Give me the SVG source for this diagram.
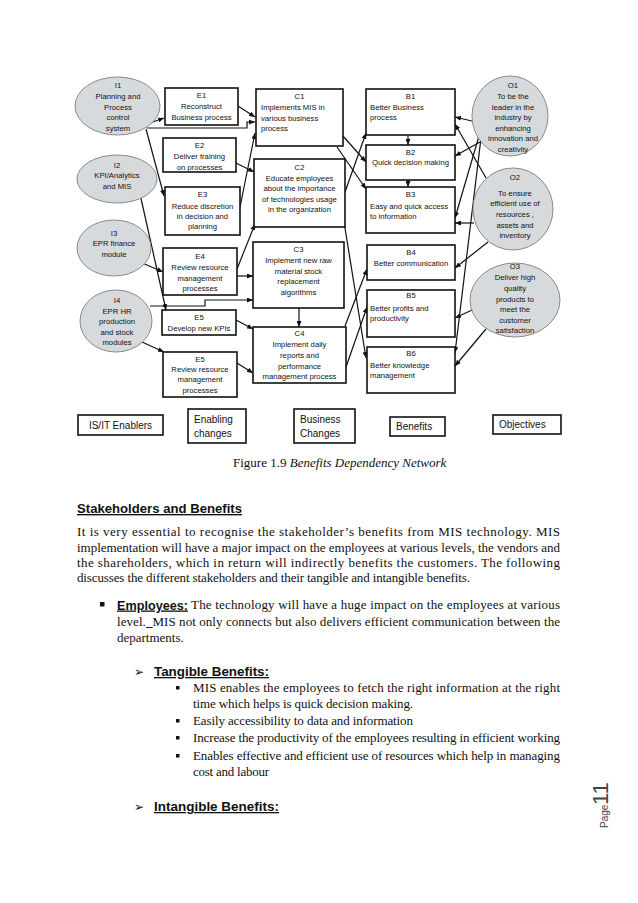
<svg xmlns="http://www.w3.org/2000/svg" width="638" height="903" viewBox="0 0 638 903">
<style>
.el{fill:#d6dadd;stroke:#8a8a8a;stroke-width:1}
.bx{fill:#fff;stroke:#111;stroke-width:1.6}
.t{font-family:"Liberation Sans",Arial,sans-serif;font-size:7.7px;fill:#111}
.c{text-anchor:middle}
.lg{font-family:"Liberation Sans",Arial,sans-serif;font-size:10px;fill:#111}
.cn{fill:none;stroke:#111;stroke-width:1.2;marker-end:url(#ah)}
.p{font-family:"Liberation Serif","Times New Roman",serif;font-size:13px;fill:#111}
.h{font-family:"Liberation Sans",Arial,sans-serif;font-weight:bold;fill:#111;text-decoration:underline}
.ar{font-family:"DejaVu Sans",sans-serif;font-size:12px;fill:#111}
</style>
<defs>
<marker id="ah" markerUnits="userSpaceOnUse" markerWidth="6" markerHeight="5" refX="6" refY="2.5" orient="auto">
<path d="M0,0 L6,2.5 L0,5 z" fill="#111"/>
</marker>
</defs>
<rect width="638" height="903" fill="#fff"/>

<g id="connectors">
<path class="cn" d="M150,123 L164,118"/>
<path class="cn" d="M147,128 L247,128 L247,122 L255,122"/>
<path class="cn" d="M238,106 L255,117"/>
<path class="cn" d="M146,129 L164,196"/>
<path class="cn" d="M140,194 L166,310"/>
<path class="cn" d="M140,262 L163,272"/>
<path class="cn" d="M150,306 L205,306 L205,300 L253,300"/>
<path class="cn" d="M142,342 L164,352"/>
<path class="cn" d="M236,163 L254,172"/>
<path class="cn" d="M240,207 L255,133"/>
<path class="cn" d="M237,269 L255,224"/>
<path class="cn" d="M237,276 L253,276"/>
<path class="cn" d="M236,320 L253,329"/>
<path class="cn" d="M237,363 L253,373"/>
<path class="cn" d="M299,308 L299,327"/>
<path class="cn" d="M343,136 L366,162"/>
<path class="cn" d="M337,147 L366,189"/>
<path class="cn" d="M345,192 L366,133"/>
<path class="cn" d="M344,222 L366,358"/>
<path class="cn" d="M345,326 L367,269"/>
<path class="cn" d="M346,367 L367,307"/>
<path class="cn" d="M408,135 L408,145"/>
<path class="cn" d="M408,180 L408,187"/>
<path class="cn" d="M476,122 L455,117"/>
<path class="cn" d="M480,142 L455,156"/>
<path class="cn" d="M479,136 L455,218"/>
<path class="cn" d="M481,138 L455,353"/>
<path class="cn" d="M486,178 L455,124"/>
<path class="cn" d="M474,223 L455,223"/>
<path class="cn" d="M488,242 L455,268"/>
<path class="cn" d="M472,310 L455,318"/>
<path class="cn" d="M486,329 L455,366"/>
</g>

<g id="I1"><ellipse class="el" cx="117.5" cy="106" rx="42.5" ry="29"/>
<text class="t c"><tspan x="118" y="88">I1</tspan><tspan x="118" y="99">Planning and</tspan><tspan x="118" y="110">Process</tspan><tspan x="118" y="120">control</tspan><tspan x="118" y="131">system</tspan></text></g>
<g id="I2"><ellipse class="el" cx="117" cy="179" rx="40" ry="24"/>
<text class="t c"><tspan x="117" y="168">I2</tspan><tspan x="117" y="178">KPI/Analytics</tspan><tspan x="117" y="189">and MIS</tspan></text></g>
<g id="I3"><ellipse class="el" cx="114" cy="248" rx="37" ry="28"/>
<text class="t c"><tspan x="114" y="236">I3</tspan><tspan x="114" y="246">EPR finance</tspan><tspan x="114" y="257">module</tspan></text></g>
<g id="I4"><ellipse class="el" cx="116" cy="321" rx="36" ry="31"/>
<text class="t c"><tspan x="117" y="303">I4</tspan><tspan x="117" y="314">EPR HR</tspan><tspan x="117" y="324">production</tspan><tspan x="117" y="335">and stock</tspan><tspan x="117" y="345">modules</tspan></text></g>

<g id="E1"><rect class="bx" x="165" y="88" width="73" height="37"/>
<text class="t c"><tspan x="201.5" y="98">E1</tspan><tspan x="201.5" y="109">Reconstruct</tspan><tspan x="201.5" y="120">Business process</tspan></text></g>
<g id="E2"><rect class="bx" x="163" y="138" width="73" height="34"/>
<text class="t c"><tspan x="199.5" y="148">E2</tspan><tspan x="199.5" y="159">Deliver training</tspan><tspan x="199.5" y="170">on processes</tspan></text></g>
<g id="E3"><rect class="bx" x="165" y="187" width="75" height="48"/>
<text class="t c"><tspan x="202.5" y="197">E3</tspan><tspan x="202.5" y="209">Reduce discretion</tspan><tspan x="202.5" y="219">in decision and</tspan><tspan x="202.5" y="229">planning</tspan></text></g>
<g id="E4"><rect class="bx" x="163" y="248" width="74" height="47"/>
<text class="t c"><tspan x="200" y="259">E4</tspan><tspan x="200" y="270">Review resource</tspan><tspan x="200" y="281">management</tspan><tspan x="200" y="291">processes</tspan></text></g>
<g id="E5a"><rect class="bx" x="162" y="310" width="74" height="25"/>
<text class="t c"><tspan x="199" y="320">E5</tspan><tspan x="199" y="331">Develop new KPIs</tspan></text></g>
<g id="E5b"><rect class="bx" x="163" y="352" width="74" height="45"/>
<text class="t c"><tspan x="200" y="362">E5</tspan><tspan x="200" y="372">Review resource</tspan><tspan x="200" y="382">management</tspan><tspan x="200" y="393">processes</tspan></text></g>

<g id="C1"><rect class="bx" x="256" y="89" width="87" height="57"/>
<text class="t"><tspan class="c" x="299.5" y="99">C1</tspan><tspan x="261" y="110">Implements MIS in</tspan><tspan x="261" y="121">various business</tspan><tspan x="261" y="131">process</tspan></text></g>
<g id="C2"><rect class="bx" x="254" y="159" width="91" height="68"/>
<text class="t c"><tspan x="299.5" y="170">C2</tspan><tspan x="299.5" y="181">Educate employees</tspan><tspan x="299.5" y="191">about the importance</tspan><tspan x="299.5" y="202">of technologies usage</tspan><tspan x="299.5" y="212">in the organization</tspan></text></g>
<g id="C3"><rect class="bx" x="253" y="242" width="91" height="66"/>
<text class="t c"><tspan x="298.5" y="252">C3</tspan><tspan x="298.5" y="263">Implement new raw</tspan><tspan x="298.5" y="274">material stock</tspan><tspan x="298.5" y="284">replacement</tspan><tspan x="298.5" y="295">algorithms</tspan></text></g>
<g id="C4"><rect class="bx" x="253" y="327" width="93" height="56"/>
<text class="t c"><tspan x="299.5" y="336">C4</tspan><tspan x="299.5" y="347">Implement daily</tspan><tspan x="299.5" y="358">reports and</tspan><tspan x="299.5" y="369">performance</tspan><tspan x="299.5" y="379">management process</tspan></text></g>

<g id="B1"><rect class="bx" x="366" y="89" width="89" height="46"/>
<text class="t"><tspan class="c" x="410.5" y="99">B1</tspan><tspan x="370" y="110">Better Business</tspan><tspan x="370" y="120">process</tspan></text></g>
<g id="B2"><rect class="bx" x="366" y="145" width="89" height="35"/>
<text class="t c"><tspan x="410.5" y="155">B2</tspan><tspan x="410.5" y="165">Quick decision making</tspan></text></g>
<g id="B3"><rect class="bx" x="366" y="187" width="89" height="46"/>
<text class="t"><tspan class="c" x="410.5" y="197">B3</tspan><tspan x="370" y="209">Easy and quick access</tspan><tspan x="370" y="219">to information</tspan></text></g>
<g id="B4"><rect class="bx" x="367" y="245" width="88" height="35"/>
<text class="t c"><tspan x="411" y="255">B4</tspan><tspan x="411" y="266">Better communication</tspan></text></g>
<g id="B5"><rect class="bx" x="367" y="290" width="88" height="47"/>
<text class="t"><tspan class="c" x="411" y="298">B5</tspan><tspan x="370" y="311">Better profits and</tspan><tspan x="370" y="321">productivity</tspan></text></g>
<g id="B6"><rect class="bx" x="367" y="347" width="88" height="46"/>
<text class="t"><tspan class="c" x="411" y="356">B6</tspan><tspan x="370" y="368">Better knowledge</tspan><tspan x="370" y="378">management</tspan></text></g>

<g id="O1"><ellipse class="el" cx="510" cy="116" rx="38" ry="40"/>
<text class="t c"><tspan x="513" y="88">O1</tspan><tspan x="513" y="99">To be the</tspan><tspan x="513" y="110">leader in the</tspan><tspan x="513" y="120">industry by</tspan><tspan x="513" y="131">enhancing</tspan><tspan x="513" y="141">innovation and</tspan><tspan x="513" y="152">creativity</tspan></text></g>
<g id="O2"><ellipse class="el" cx="513" cy="209" rx="40" ry="41"/>
<text class="t c"><tspan x="515" y="180">O2</tspan><tspan x="515" y="196">To ensure</tspan><tspan x="515" y="206">efficient use of</tspan><tspan x="515" y="217">resources ,</tspan><tspan x="515" y="228">assets and</tspan><tspan x="515" y="238">inventory</tspan></text></g>
<g id="O3"><ellipse class="el" cx="515" cy="300" rx="45" ry="37"/>
<text class="t c"><tspan x="515" y="269">O3</tspan><tspan x="515" y="280">Deliver high</tspan><tspan x="515" y="291">quality</tspan><tspan x="515" y="302">products  to</tspan><tspan x="515" y="312">meet the</tspan><tspan x="515" y="323">customer</tspan><tspan x="515" y="333">satisfaction</tspan></text></g>

<g id="legend-isit"><rect class="bx" x="78" y="415" width="85" height="20"/><text class="lg c" x="120.5" y="429">IS/IT Enablers</text></g>
<g id="legend-enabling"><rect class="bx" x="188" y="409" width="58" height="34"/><text class="lg"><tspan x="194" y="423">Enabling</tspan><tspan x="194" y="437">changes</tspan></text></g>
<g id="legend-business"><rect class="bx" x="294" y="409" width="61" height="34"/><text class="lg"><tspan x="300" y="423">Business</tspan><tspan x="300" y="437">Changes</tspan></text></g>
<g id="legend-benefits"><rect class="bx" x="390" y="417" width="55" height="19"/><text class="lg" x="396" y="430">Benefits</text></g>
<g id="legend-objectives"><rect class="bx" x="493" y="415" width="68" height="19"/><text class="lg" x="499" y="428">Objectives</text></g>

<text class="p" x="233" y="467" font-size="12">Figure  1.9 <tspan font-style="italic">Benefits Dependency Network</tspan></text>

<text class="h" x="77" y="513" font-size="13.5" textLength="165" lengthAdjust="spacingAndGlyphs">Stakeholders and Benefits</text>
<text class="p" x="77" y="536" textLength="483" lengthAdjust="spacing">It is very essential to recognise the stakeholder’s benefits from MIS technology. MIS</text>
<text class="p" x="77" y="551.5" textLength="483" lengthAdjust="spacing">implementation will have a major impact on the employees at various levels, the vendors and</text>
<text class="p" x="77" y="567" textLength="483" lengthAdjust="spacing">the shareholders, which in return will indirectly benefits the customers. The following</text>
<text class="p" x="77" y="582" textLength="393" lengthAdjust="spacing">discusses the different stakeholders and their tangible and intangible benefits.</text>

<rect x="100" y="602" width="4.5" height="4.5" fill="#111"/>
<text class="h" x="117" y="609.5" font-size="13" textLength="71" lengthAdjust="spacingAndGlyphs">Employees:</text>
<text class="p" x="191" y="609" textLength="369" lengthAdjust="spacing">The technology will have a huge impact on the employees at various</text>
<text class="p" x="117" y="626" textLength="443" lengthAdjust="spacing">level.<tspan font-weight="bold">_</tspan>MIS not only connects but also delivers efficient communication between the</text>
<text class="p" x="117" y="642">departments.</text>

<text class="ar" x="134" y="676">➢</text>
<text class="h" x="154" y="676" font-size="13" textLength="115" lengthAdjust="spacingAndGlyphs">Tangible Benefits:</text>
<rect x="176" y="686" width="3.5" height="3.5" fill="#111"/>
<text class="p" x="193" y="692" textLength="367" lengthAdjust="spacing">MIS enables the employees to fetch the right information at the right</text>
<text class="p" x="193" y="708" textLength="220" lengthAdjust="spacing">time which helps is quick decision making.</text>
<rect x="176" y="719" width="3.5" height="3.5" fill="#111"/>
<text class="p" x="193" y="725" textLength="220" lengthAdjust="spacing">Easily accessibility to data and information</text>
<rect x="176" y="736" width="3.5" height="3.5" fill="#111"/>
<text class="p" x="193" y="742" textLength="367" lengthAdjust="spacing">Increase the productivity of the employees resulting in efficient working</text>
<rect x="176" y="754" width="3.5" height="3.5" fill="#111"/>
<text class="p" x="193" y="760" textLength="367" lengthAdjust="spacing">Enables effective and efficient use of resources which help in managing</text>
<text class="p" x="193" y="776" textLength="76" lengthAdjust="spacing">cost and labour</text>

<text class="ar" x="134" y="811">➢</text>
<text class="h" x="154" y="811" font-size="13" textLength="125" lengthAdjust="spacingAndGlyphs">Intangible Benefits:</text>

<text transform="translate(608,828) rotate(-90)" font-family="Liberation Sans,Arial,sans-serif" font-size="10" fill="#444">Page</text>
<text transform="translate(608,805) rotate(-90)" font-family="Liberation Sans,Arial,sans-serif" font-size="22" fill="#444">11</text>
</svg>
